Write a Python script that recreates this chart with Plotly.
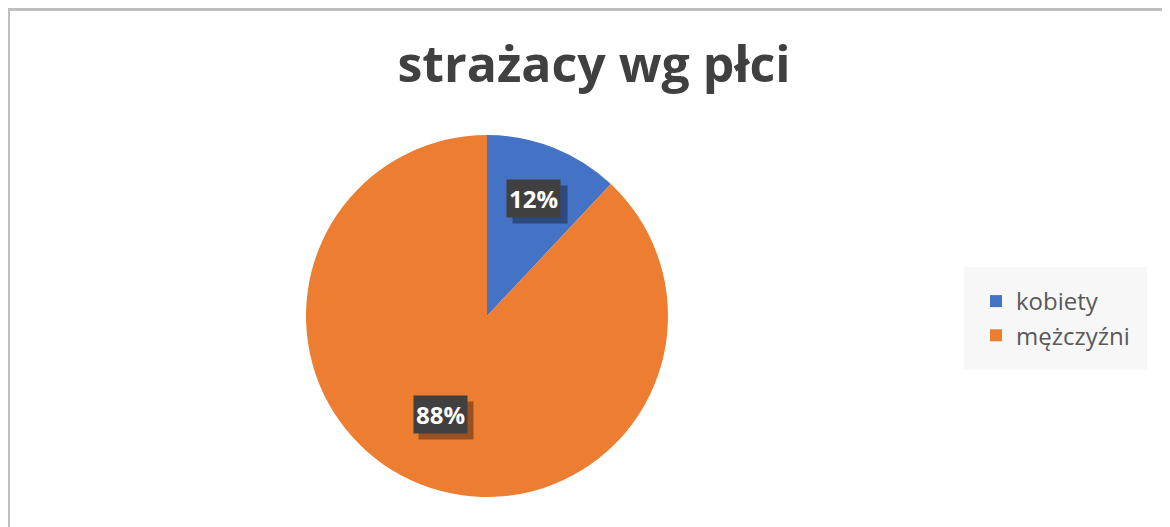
import math
import plotly.graph_objects as go

categories = ["kobiety", "mężczyźni"]
values = [12, 88]
colors = ["#4472C4", "#ED7D31"]
title_text = "strażacy wg płci"

W, H = 1170, 527
# page is rendered with an 8px body margin, so figure coords = page coords - 8
OFF = 8
cx_px, cy_px = 487 - OFF, 316 - OFF   # pie centre (figure px, from top-left)
D = 362                               # pie diameter in px
R = D / 2

dom_x = [(cx_px - R) / W, (cx_px + R) / W]
dom_y = [1 - (cy_px + R) / H, 1 - (cy_px - R) / H]

fig = go.Figure()
fig.add_trace(go.Pie(
    labels=categories,
    values=values,
    marker=dict(colors=colors, line=dict(width=0)),
    sort=False,
    direction="clockwise",
    rotation=0,
    textinfo="none",
    hoverinfo="label+percent",
    domain=dict(x=dom_x, y=dom_y),
))

# percentage labels placed from the data (mid-angle of each slice)
total = sum(values)
cum = 0
annotations = []
for v, c in zip(values, colors):
    mid = (cum + v / 2) / total * 2 * math.pi
    cum += v
    rr = 0.70 * R
    px = cx_px + rr * math.sin(mid)
    py = cy_px - rr * math.cos(mid)
    ax_ = px / W
    ay_ = 1 - py / H
    txt = f"{round(v / total * 100)}%"
    # shadow box (blank text, just a darker offset box)
    annotations.append(dict(
        x=ax_, y=ay_, xref="paper", yref="paper", text="\u00a0" * 8, showarrow=False,
        xshift=6, yshift=-6, bgcolor="rgba(0,0,0,0.35)", borderpad=2,
        font=dict(family="Open Sans", size=24, color="rgba(0,0,0,0)", weight="bold"),
    ))
    annotations.append(dict(
        x=ax_, y=ay_, xref="paper", yref="paper", text=txt, showarrow=False,
        bgcolor="#404040", borderpad=2,
        font=dict(family="Open Sans", size=24, color="white", weight="bold"),
    ))

fig.update_layout(
    width=W, height=H,
    margin=dict(l=0, r=0, t=0, b=0),
    paper_bgcolor="white",
    title=dict(
        text=title_text, x=(594 - OFF) / W, xanchor="center",
        y=1 - (64 - OFF) / H, yanchor="middle",
        font=dict(family="Open Sans", size=50, color="#404040", weight="bold"),
    ),
    showlegend=True,
    legend=dict(
        x=(964 - OFF) / W, xanchor="left", y=1 - (267 - OFF) / H, yanchor="top",
        bgcolor="#f7f7f7", bordercolor="#f7f7f7", borderwidth=12,
        font=dict(family="Open Sans", size=24, color="#595959"),
        itemsizing="constant",
    ),
    annotations=annotations,
    shapes=[
        dict(type="line", xref="paper", yref="paper", x0=0, x1=1.0,
             y0=1 - 1.5 / H, y1=1 - 1.5 / H, line=dict(color="#bfbfbf", width=3)),
        dict(type="line", xref="paper", yref="paper", x0=0.5 / W, x1=0.5 / W,
             y0=0, y1=1, line=dict(color="#bfbfbf", width=3)),
    ],
)

fig.write_html("out.html")
